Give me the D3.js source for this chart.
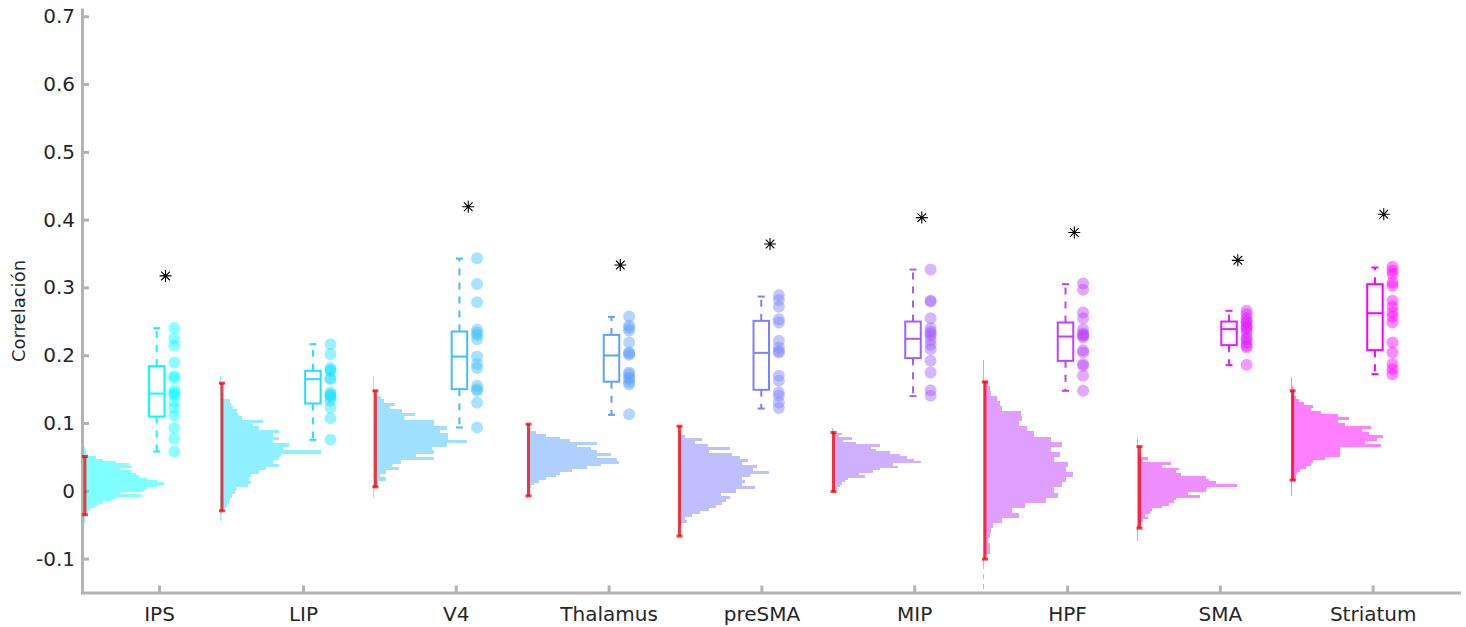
<!DOCTYPE html>
<html>
<head>
<meta charset="utf-8">
<script src="https://cdn.jsdelivr.net/npm/d3@7"></script>
<style>
  body { margin: 0; background: #ffffff; }
  text { font-family: "DejaVu Sans", sans-serif; }
</style>
</head>
<body>
<div id="chart"></div>
<script>
// --- data ---
const categories = ["IPS", "LIP", "V4", "Thalamus", "preSMA", "MIP", "HPF", "SMA", "Striatum"];
const tickPos = [1.058, 2, 3, 4, 5, 6, 7, 8, 9];
const boxPos  = [1.043, 2.065, 3.024, 4.019, 4.999, 5.992, 6.99, 8.06, 9.015];
const histPos = [0.560, 1.457, 2.461, 3.463, 4.451, 5.459, 6.450, 7.461, 8.463];
const yTicks = [-0.1, 0, 0.1, 0.2, 0.3, 0.4, 0.5, 0.6, 0.7];

// boxplot stats
const whiskerHigh = [0.240, 0.2163, 0.3426, 0.2566, 0.2866, 0.3264, 0.3048, 0.2655, 0.3294];
const q3          = [0.184, 0.177, 0.235, 0.230, 0.2507, 0.2497, 0.2483, 0.2497, 0.3048];
const medians     = [0.1435, 0.1647, 0.198, 0.1996, 0.2035, 0.2242, 0.2276, 0.2385, 0.262];
const q1          = [0.1096, 0.1288, 0.150, 0.161, 0.149, 0.1957, 0.1917, 0.2149, 0.2075];
const whiskerLow  = [0.058, 0.0752, 0.0934, 0.112, 0.1214, 0.1397, 0.1475, 0.1854, 0.1721];

// 95% range of the null distribution (red bars)
const ciHigh = [0.0506, 0.1588, 0.1475, 0.0983, 0.0954, 0.086, 0.1608, 0.0653, 0.1475];
const ciLow  = [-0.0354, -0.0295, 0.0059, -0.0074, -0.0668, -0.001, -0.1008, -0.055, 0.0158];

// significance markers (null = none)
const starY = [0.317, null, 0.419, 0.333, 0.364, 0.403, 0.381, 0.340, 0.408];

// individual values
const dotsIPS = [0.240, 0.2246, 0.2139, 0.1892, 0.1690, 0.1665, 0.1485, 0.1440, 0.1416, 0.1317, 0.1220, 0.1106, 0.0925, 0.0771, 0.0580];
const dotsLIP = [0.2163, 0.2016, 0.1810, 0.1780, 0.1770, 0.1660, 0.1647, 0.1450, 0.1420, 0.1401, 0.1380, 0.1327, 0.1229, 0.1072, 0.0752];
const dotsV4 = [0.343, 0.305, 0.278, 0.2375, 0.2330, 0.2300, 0.2237, 0.198, 0.187, 0.181, 0.155, 0.1500, 0.1475, 0.130, 0.0934];
const dotsThalamus = [0.257, 0.2434, 0.2400, 0.236, 0.2188, 0.2040, 0.2025, 0.2006, 0.1745, 0.1720, 0.167, 0.1650, 0.1600, 0.157, 0.113];
const dotsPreSMA = [0.2886, 0.2813, 0.2714, 0.2532, 0.2482, 0.2212, 0.2114, 0.2060, 0.204, 0.1696, 0.1622, 0.145, 0.1401, 0.1302, 0.122];
const dotsMIP = [0.3264, 0.2802, 0.2792, 0.2547, 0.24, 0.235, 0.2320, 0.2286, 0.2223, 0.2153, 0.209, 0.1917, 0.1745, 0.1485, 0.1401];
const dotsHPF = [0.3058, 0.2965, 0.263, 0.2547, 0.2385, 0.232, 0.2300, 0.2286, 0.2261, 0.2075, 0.204, 0.1869, 0.1844, 0.1696, 0.1475];
const dotsSMA = [0.2655, 0.2606, 0.2547, 0.2500, 0.2482, 0.2434, 0.2410, 0.2385, 0.2335, 0.2260, 0.2237, 0.2188, 0.2139, 0.2114, 0.1858];
const dotsStriatum = [0.3304, 0.3245, 0.3196, 0.3072, 0.3024, 0.2802, 0.2714, 0.263, 0.2566, 0.2482, 0.2188, 0.204, 0.1869, 0.1795, 0.1721];

// null distributions: first bin edge, bin width, relative counts (low -> high)
const histStart = [-0.054, -0.045, -0.010, -0.020, -0.079, -0.005, -0.145, -0.074, -0.008];
const histStep  = [0.0035, 0.005, 0.005, 0.004, 0.0045, 0.0035, 0.0075, 0.004, 0.0045];
const histIPS = [1,1,2,2,3,4,6,9,15,19,25,34,40,71,46,75,79,91,100,91,79,69,65,59,46,60,56,40,25,16,6,4,3,2];
const histLIP = [1,1,2,2,7,9,10,12,15,16,28,31,29,31,39,46,59,53,59,61,100,63,69,53,59,53,59,39,33,43,22,18,17,13,11,10,3,3,2,2,1,1,1];
const histV4 = [1,1,2,4,5,13,7,13,27,20,29,65,45,65,62,78,100,80,80,71,78,65,65,33,44,31,18,23,11,8,3,2,1,1,1,1];
const histThalamus = [1,1,2,2,3,4,5,8,13,21,32,36,49,65,80,100,98,76,91,76,69,54,76,47,36,21,10,4,2,2,1,1,1];
const histPreSMA = [1,1,1,2,3,3,4,10,8,16,25,34,42,49,53,57,47,64,85,70,74,70,79,100,83,87,70,77,68,60,34,57,33,19,27,8,4,2,1,1,1,1,1];
const histMIP = [1,2,6,10,12,15,19,37,31,46,54,75,69,100,92,85,77,65,50,44,54,27,13,23,8,12,3,2,1,1];
const histHPF = [1,0,1,0,1,1,2,8,8,6,8,9,11,21,40,32,47,70,83,79,87,92,100,92,94,79,85,75,87,75,57,49,40,43,42,21,19,15,9,8,6,1,1,1,1];
const histSMA = [1,1,1,1,1,2,4,6,11,8,13,15,25,32,37,39,63,51,69,70,100,79,72,69,44,39,42,25,34,6,11,4,2,2,2,1,1,1];
const histStriatum = [1,1,1,1,2,6,6,7,10,17,22,24,37,54,54,54,98,81,94,100,85,78,87,59,52,63,52,33,22,24,15,9,6,4,4,3,1,1,1];

const dots = [dotsIPS, dotsLIP, dotsV4, dotsThalamus, dotsPreSMA, dotsMIP, dotsHPF, dotsSMA, dotsStriatum];
const hists = [histIPS, histLIP, histV4, histThalamus, histPreSMA, histMIP, histHPF, histSMA, histStriatum];

// --- layout ---
let width = 1466, height = 627;
let boxHalf = 7.75, capHalf = 3.5, dotOffset = 17.6, starOffset = 8.8;

let svg = d3.select("#chart")
    .append("svg")
    .attr("width", width)
    .attr("height", height);

let x = d3.scaleLinear().domain([0.554, 9.565]).range([82, 1459]);
let y = d3.scaleLinear().domain([-0.15, 0.71]).range([592.5, 9.5]);

// cool colormap: cyan -> magenta
let colour = function(i){ return d3.interpolateRgb("#00ffff", "#ff00ff")(i / (categories.length - 1)); };

// axes
let axisGrey = "#b3b3b3";
let yAxis = d3.axisLeft(y)
    .tickValues(yTicks)
    .tickSizeInner(-7)
    .tickSizeOuter(0)
    .tickPadding(7)
    .tickFormat(function(d){ return d === 0 ? "0" : String(d); });
let xAxis = d3.axisBottom(x)
    .tickValues(tickPos)
    .tickSizeInner(-7)
    .tickSizeOuter(0)
    .tickPadding(14)
    .tickFormat(function(d,i){ return categories[i]; });

let gy = svg.append("g")
    .attr("transform", "translate(" + x.range()[0] + ",0)")
    .call(yAxis);
let gx = svg.append("g")
    .attr("transform", "translate(0," + y.range()[0] + ")")
    .call(xAxis);

[gx, gy].forEach(function(g){
  g.attr("font-size", 20).attr("font-family", "'DejaVu Sans', sans-serif").attr("color", "#262626");
  g.select(".domain").attr("stroke", axisGrey).attr("stroke-width", 3).attr("stroke-linecap", "square");
  g.selectAll(".tick line").attr("stroke", axisGrey).attr("stroke-width", 3);
});

svg.append("text")
    .attr("transform", "translate(25," + 311 + ") rotate(-90)")
    .style("text-anchor", "middle")
    .attr("font-size", 18)
    .attr("fill", "#262626")
    .text("Correlación");

// groups
categories.forEach(function(name, i){
  let col = colour(i);
  let g = svg.append("g").attr("class", "group");
  let base = x(histPos[i]);
  let bx = x(boxPos[i]);

  // null distribution histogram (horizontal bars)
  let bins = hists[i].map(function(c, k){
    return { lo: histStart[i] + k * histStep[i], hi: histStart[i] + (k + 1) * histStep[i], c: c };
  });
  let w = d3.scaleLinear()
      .domain([0, d3.max(hists[i])])
      .range([0, bx + boxHalf - base]);

  g.selectAll(".bin")
      .data(bins)
    .enter().append("rect")
      .attr("class", "bin")
      .attr("x", base)
      .attr("y", function(d){ return y(d.hi); })
      .attr("width", function(d){ return w(d.c); })
      .attr("height", function(d){ return y(d.lo) - y(d.hi); })
      .attr("fill", col)
      .attr("fill-opacity", 0.5)
      .attr("shape-rendering", "crispEdges");

  // red interval
  let rx = base + 2;
  g.append("line")
      .attr("x1", rx).attr("x2", rx)
      .attr("y1", y(ciLow[i])).attr("y2", y(ciHigh[i]))
      .attr("stroke", "#ff0000").attr("stroke-opacity", 0.75)
      .attr("stroke-width", 3);
  [ciLow[i], ciHigh[i]].forEach(function(v){
    g.append("line")
        .attr("x1", rx - 3).attr("x2", rx + 3)
        .attr("y1", y(v)).attr("y2", y(v))
        .attr("stroke", "#ff0000").attr("stroke-opacity", 0.75)
        .attr("stroke-width", 3);
  });

  // whiskers (dashed) and caps
  [[q3[i], whiskerHigh[i]], [q1[i], whiskerLow[i]]].forEach(function(p){
    g.append("line")
        .attr("x1", bx).attr("x2", bx)
        .attr("y1", y(p[0])).attr("y2", y(p[1]))
        .attr("stroke", col).attr("stroke-width", 2)
        .attr("stroke-dasharray", "7,7");
    g.append("line")
        .attr("x1", bx - capHalf).attr("x2", bx + capHalf)
        .attr("y1", y(p[1])).attr("y2", y(p[1]))
        .attr("stroke", col).attr("stroke-width", 2);
  });

  // box
  g.append("rect")
      .attr("x", bx - boxHalf)
      .attr("y", y(q3[i]))
      .attr("width", boxHalf * 2)
      .attr("height", y(q1[i]) - y(q3[i]))
      .attr("fill", "none")
      .attr("stroke", col)
      .attr("stroke-width", 2);
  g.append("line")
      .attr("x1", bx - boxHalf).attr("x2", bx + boxHalf)
      .attr("y1", y(medians[i])).attr("y2", y(medians[i]))
      .attr("stroke", col).attr("stroke-width", 2);

  // individual points
  g.selectAll(".dot")
      .data(dots[i])
    .enter().append("circle")
      .attr("class", "dot")
      .attr("cx", bx + dotOffset)
      .attr("cy", function(d){ return y(d); })
      .attr("r", 6)
      .attr("fill", col)
      .attr("fill-opacity", 0.45);

  // asterisk
  if(starY[i] !== null){
    let sx = bx + starOffset, sy = y(starY[i]), s = 6;
    g.append("path")
        .attr("d", "M" + (sx - s) + "," + sy + "H" + (sx + s) +
                   "M" + sx + "," + (sy - s) + "V" + (sy + s) +
                   "M" + (sx - s * 0.72) + "," + (sy - s * 0.72) + "L" + (sx + s * 0.72) + "," + (sy + s * 0.72) +
                   "M" + (sx - s * 0.72) + "," + (sy + s * 0.72) + "L" + (sx + s * 0.72) + "," + (sy - s * 0.72))
        .attr("stroke", "#000000")
        .attr("stroke-width", 1.1)
        .attr("fill", "none");
  }
});
</script>
</body>
</html>
